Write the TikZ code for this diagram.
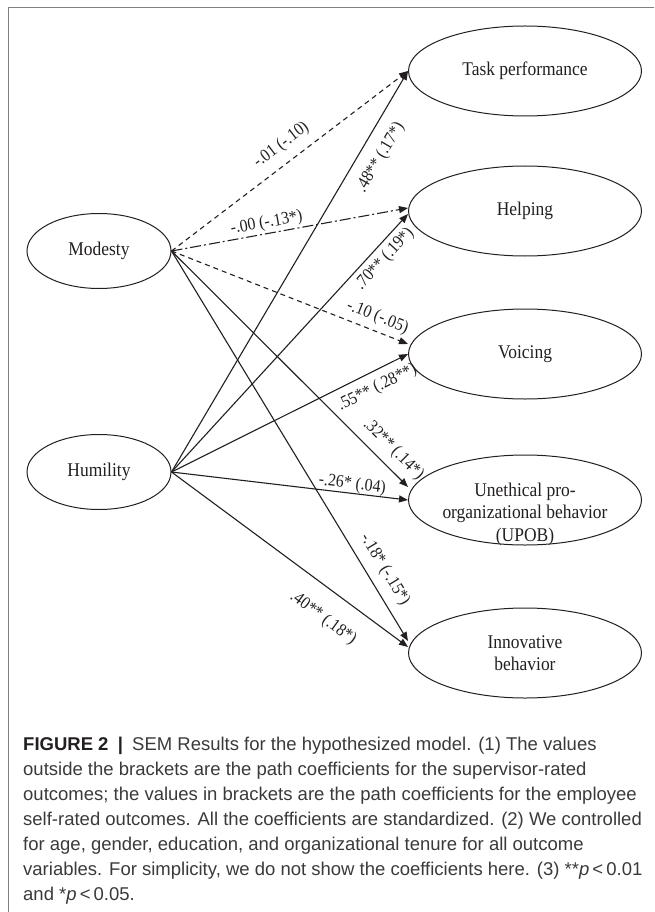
\documentclass[tikz,border=0pt]{standalone}
\usepackage{fontspec}
\setmainfont{Liberation Serif}
\newfontfamily\semfont[FakeStretch=0.9]{Liberation Serif}
\newfontfamily\capfont{Liberation Sans}
\usepackage{tikz}
\usetikzlibrary{positioning,arrows.meta,shapes.geometric}
\definecolor{semink}{HTML}{231F20}
\definecolor{semcap}{HTML}{3A3A3A}
\definecolor{semframe}{HTML}{808080}

\begin{document}
\begin{tikzpicture}[x=1pt,y=-1pt,
  factor/.style={draw=semink,line width=1pt,ellipse,minimum width=144pt,minimum height=75pt,inner sep=0pt,text=semink,font=\semfont\fontsize{19.4}{22.5}\selectfont,align=center},
  outcome/.style={factor,minimum width=233pt,minimum height=90pt},
  sig/.style={-{Triangle[length=9pt,width=7pt]},semink,line width=1.1pt},
  ns/.style={sig,dash pattern=on 5pt off 4pt},
  nsdd/.style={sig,dash pattern=on 11pt off 3pt on 2pt off 3pt},
  coef/.style={sloped,inner sep=0pt,text height=12pt,text depth=4pt,text=semink,font=\semfont\fontsize{17.6}{18}\selectfont},
  capt/.style={inner sep=0pt,align=left,text=semcap,font=\capfont\fontsize{18.5}{25}\selectfont}
]
\useasboundingbox (0,0) rectangle (654,912);
\draw[semframe,line width=1pt] (8,912) -- (8,7.5) -- (654,7.5);

% predictors
\node[factor] (mod) at (99,251) {Modesty};
\node[factor,below=145pt of mod] (hum) {Humility};

% outcomes
\node[outcome] (task) at (525,71) {Task performance};
\node[outcome,below=49pt of task] (help) {Helping};
\node[outcome,below=52pt of help] (voi) {Voicing};
\node[outcome,below=55pt of voi,label={[yshift=-14pt,font=\semfont\fontsize{19.4}{22.5}\selectfont,text=semink,align=center]center:Unethical pro-\\organizational behavior\\(UPOB)}] (upob) {};
\node[outcome,below=62pt of upob] (inn) {Innovative\\behavior};

% paths from modesty
\draw[ns] (mod.east) -- node[coef,pos=.51,above=9pt] {-.01 (-.10)} (task.west);
\draw[nsdd] (mod.east) -- node[coef,pos=.41,above=1.5pt] {-.00 (-.13*)} ([yshift=3pt]help.west);
\draw[ns] (mod.east) -- node[coef,pos=.85,above=5pt] {-.10 (-.05)} ([yshift=10pt]voi.west);
\draw[sig] (mod.east) -- node[coef,pos=.89,above=7.5pt] {.32** (.14*)} ([yshift=13pt]upob.west);
\draw[sig] (mod.east) -- node[coef,pos=.84,above=8.5pt] {-.18* (-.15*)} ([yshift=12pt]inn.west);

% paths from humility
\draw[sig] (hum.east) -- node[coef,pos=.81,below=12pt] {.48** (.17*)} (task.west);
\draw[sig] (hum.east) -- node[coef,pos=.86,below=5pt] {.70** (.19*)} ([yshift=-3pt]help.west);
\draw[sig] (hum.east) -- node[coef,pos=.84,below=8pt] {.55** (.28**)} (voi.west);
\draw[sig] (hum.east) -- node[coef,pos=.76,above=0pt] {-.26* (.04)} (upob.west);
\draw[sig] (hum.east) -- node[coef,pos=.71,below=19pt] {.40** (.18*)} ([yshift=6pt]inn.west);

\node[capt,anchor=north west] (caption) at (23,737) {{\color{semink}\textbf{FIGURE 2}\enspace\textbf{|}}\enspace SEM Results for the hypothesized model. (1) The values\\
outside the brackets are the path coefficients for the supervisor-rated\\
outcomes; the values in brackets are the path coefficients for the employee\\
self-rated outcomes. All the coefficients are standardized. (2) We controlled\\
for age, gender, education, and organizational tenure for all outcome\\
variables. For simplicity, we do not show the coefficients here. (3) **\textit{p}\,<\,0.01\\
and *\textit{p}\,<\,0.05.};
\end{tikzpicture}
\end{document}
